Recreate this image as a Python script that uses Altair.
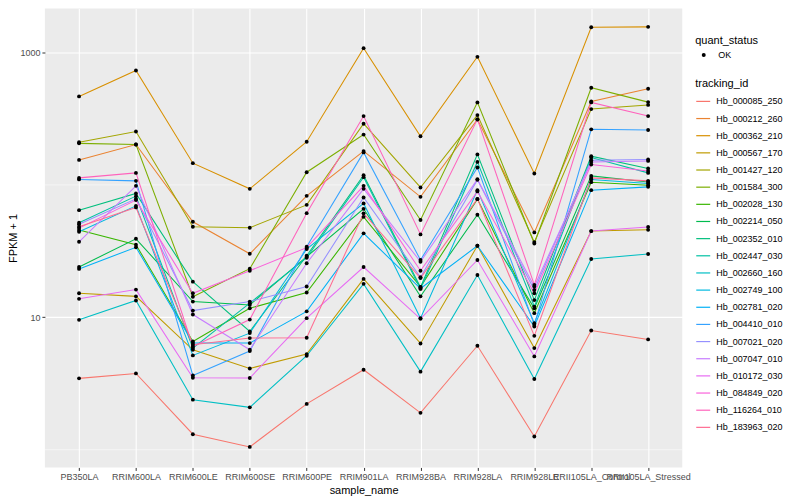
import altair as alt
import pandas as pd

samples = ["PB350LA", "RRIM600LA", "RRIM600LE", "RRIM600SE", "RRIM600PE",
           "RRIM901LA", "RRIM928BA", "RRIM928LA", "RRIM928LE",
           "RRII105LA_Control", "RRII105LA_Stressed"]

tracking_ids = ["Hb_000085_250", "Hb_000212_260", "Hb_000362_210", "Hb_000567_170",
                "Hb_001427_120", "Hb_001584_300", "Hb_002028_130", "Hb_002214_050",
                "Hb_002352_010", "Hb_002447_030", "Hb_002660_160", "Hb_002749_100",
                "Hb_002781_020", "Hb_004410_010", "Hb_007021_020", "Hb_007047_010",
                "Hb_010172_030", "Hb_084849_020", "Hb_116264_010", "Hb_183963_020"]

palette = ["#F8766D", "#EA8331", "#D89000", "#C09B00", "#A3A500", "#7CAE00",
           "#39B600", "#00BB4E", "#00BF7D", "#00C1A3", "#00BFC4", "#00BAE0",
           "#00B0F6", "#35A2FF", "#9590FF", "#C77CFF", "#E76BF3", "#FA62DB",
           "#FF62BC", "#FF6C91"]

# FPKM + 1 per sample (order of `samples`)
hb_000085_250 = [3.46, 3.77, 1.31, 1.05, 2.22, 4.02, 1.90, 6.10, 1.26, 7.95, 6.81]
hb_000212_260 = [154.4, 202, 52.7, 30.2, 82.7, 180, 81.3, 312, 43.8, 427, 533]
hb_000362_210 = [466, 732, 146, 93.4, 212, 1078, 233, 928, 122, 1551, 1562]
hb_000567_170 = [15.2, 14.4, 5.69, 4.11, 5.28, 19.5, 6.35, 34.7, 5.86, 44.8, 45.8]
hb_001427_120 = [210, 253, 48.3, 47.5, 70.7, 290, 95.7, 337, 37.0, 374, 402]
hb_001584_300 = [206, 202, 14.3, 23.3, 124.7, 240, 54.3, 420, 36.1, 542, 422]
hb_002028_130 = [45.6, 35.4, 6.57, 11.7, 15.4, 57.4, 17.0, 78.1, 10.75, 104.9, 99.6]
hb_002214_050 = [24.0, 39.2, 13.15, 12.4, 28.7, 66, 14.4, 59.5, 11.7, 117, 105.4]
hb_002352_010 = [64.5, 86.2, 18.6, 7.82, 29.2, 118.4, 16.9, 170, 13.5, 165, 133]
hb_002447_030 = [51.8, 82.3, 5.86, 12.8, 28.2, 114.4, 16.4, 149.2, 12.06, 161, 123.3]
hb_002660_160 = [9.57, 13.4, 2.39, 2.09, 5.13, 17.9, 3.89, 20.9, 3.42, 27.6, 30.1]
hb_002749_100 = [44.3, 69.5, 5.16, 7.60, 32.8, 72.5, 9.86, 91.3, 9.04, 110, 102.5]
hb_002781_020 = [23.2, 33.8, 6.39, 6.39, 11.1, 43.1, 16.5, 34.7, 8.53, 91.3, 96.7]
hb_004410_010 = [110, 107.3, 3.64, 5.56, 34.1, 176, 27.1, 135.3, 8.78, 263, 260]
hb_007021_020 = [50.4, 78.5, 11.25, 13.15, 17.1, 80.4, 20.1, 109.2, 16.1, 153.6, 155.5]
hb_007047_010 = [37.2, 98.4, 10.5, 5.69, 25.6, 93.4, 26.3, 110.5, 17.1, 149.2, 151.8]
hb_010172_030 = [13.8, 16.2, 3.50, 3.48, 9.86, 24.0, 9.74, 27.1, 5.07, 44.8, 48.1]
hb_084849_020 = [47.2, 76.8, 15.2, 22.5, 33.6, 98.4, 22.5, 89.3, 15.2, 142.6, 127.6]
hb_116264_010 = [113, 123.3, 6.03, 9.62, 61.2, 331, 42.3, 313, 17.6, 420, 331]
hb_183963_020 = [48.3, 67.6, 6.21, 6.97, 7.01, 61, 19.8, 78.5, 7.25, 113, 107.3]

series = [hb_000085_250, hb_000212_260, hb_000362_210, hb_000567_170, hb_001427_120,
          hb_001584_300, hb_002028_130, hb_002214_050, hb_002352_010, hb_002447_030,
          hb_002660_160, hb_002749_100, hb_002781_020, hb_004410_010, hb_007021_020,
          hb_007047_010, hb_010172_030, hb_084849_020, hb_116264_010, hb_183963_020]

minor_breaks = [1, 100]
major_breaks = [10, 1000]

rows = []
for tid, vals in zip(tracking_ids, series):
    for s, v in zip(samples, vals):
        rows.append({"tracking_id": tid, "sample_name": s, "fpkm1": v, "quant_status": "OK"})
df = pd.DataFrame(rows)

FONT = "Liberation Sans"

x_enc = alt.X("sample_name:N", sort=samples, title="sample_name",
              scale=alt.Scale(type="point", padding=0.6),
              axis=alt.Axis(labelAngle=0, labelOverlap=False, grid=True,
                            gridColor="white", gridWidth=1.1, domain=False,
                            tickColor="#333333", tickSize=3, tickWidth=1,
                            labelColor="#4D4D4D", labelFontSize=9, labelPadding=2,
                            titleFontSize=11, titleFontWeight="normal",
                            titleColor="black", titlePadding=3, labelFont=FONT,
                            titleFont=FONT))

y_scale = alt.Scale(type="log", domain=[0.735, 2145], nice=False, zero=False)
y_enc = alt.Y("fpkm1:Q", scale=y_scale, title="FPKM + 1",
              axis=alt.Axis(values=major_breaks, format="d", grid=True,
                            gridColor="white", gridWidth=1.1, domain=False,
                            tickColor="#333333", tickSize=3, tickWidth=1,
                            labelColor="#4D4D4D", labelFontSize=9, labelPadding=2,
                            titleFontSize=11, titleFontWeight="normal",
                            titleColor="black", titleX=-31, titleBaseline="middle",
                            labelFont=FONT, titleFont=FONT))

minor = alt.Chart(pd.DataFrame({"fpkm1": minor_breaks})).mark_rule(
    color="white", strokeWidth=0.55).encode(y=alt.Y("fpkm1:Q", scale=y_scale))

lines = alt.Chart(df).mark_line(strokeWidth=1.05).encode(
    x=x_enc, y=y_enc,
    color=alt.Color("tracking_id:N", title="tracking_id",
                    scale=alt.Scale(domain=tracking_ids, range=palette),
                    legend=alt.Legend(orient="none", legendX=652, legendY=70,
                                      symbolType="stroke", symbolSize=196,
                                      symbolStrokeWidth=1.2, rowPadding=4.2,
                                      titleFontSize=11, titleFontWeight="normal",
                                      titleColor="black", titlePadding=4,
                                      labelFontSize=9, labelColor="black",
                                      labelFont=FONT, titleFont=FONT,
                                      symbolLimit=40, labelOffset=5)),
    detail="tracking_id:N",
)

points = alt.Chart(df).mark_point(filled=True, size=15, color="black", opacity=1).encode(
    x=alt.X("sample_name:N", sort=samples),
    y=alt.Y("fpkm1:Q"),
    shape=alt.Shape("quant_status:N", title="quant_status",
                    scale=alt.Scale(range=["circle"]),
                    legend=alt.Legend(orient="none", legendX=652, legendY=26,
                                      symbolSize=16, symbolFillColor="black",
                                      symbolStrokeColor="black",
                                      titleFontSize=11, titleFontWeight="normal",
                                      titleColor="black", titlePadding=5,
                                      labelFontSize=9, labelColor="black",
                                      labelFont=FONT, titleFont=FONT,
                                      rowPadding=6, labelOffset=10, symbolOffset=4)),
)

chart = alt.layer(minor, lines, points).properties(
    width=639, height=460,
    autosize=alt.AutoSizeParams(type="none"),
    padding={"left": 37, "top": 0, "right": 110, "bottom": 31},
).configure(font=FONT).configure_view(fill="#EBEBEB", stroke=None)

chart.save("out.html", embed_options={"renderer": "svg", "actions": False})
